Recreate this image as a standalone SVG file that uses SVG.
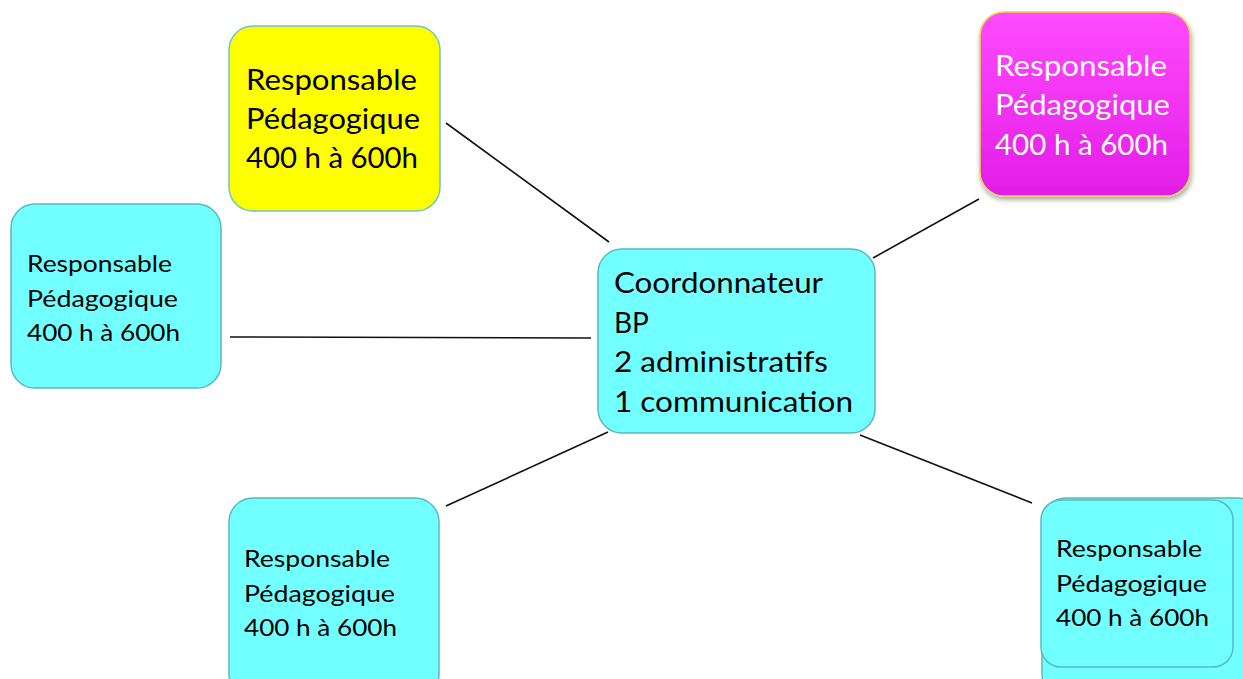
<svg xmlns="http://www.w3.org/2000/svg" width="1243" height="679" viewBox="0 0 1243 679">
<defs>
<style>
.box{fill:#72ffff;stroke:#5ab8c0;stroke-width:1.5}
.t{font-family:Lato,"Liberation Sans",sans-serif;fill:#000}
.w{fill:#fff}
.big{font-size:28px}
.sm{font-size:23px}
.conn line{stroke:#111;stroke-width:1.6}
</style>
<linearGradient id="mag" x1="0" y1="0" x2="0" y2="1">
<stop offset="0" stop-color="#ff4aff"/>
<stop offset="1" stop-color="#e31de6"/>
</linearGradient>
<filter id="sh" x="-10%" y="-10%" width="125%" height="125%">
<feDropShadow dx="1" dy="3" stdDeviation="2.5" flood-color="#000" flood-opacity="0.35"/>
</filter>
</defs>
<rect width="1243" height="679" fill="#fff"/>
<g class="conn">
<line x1="446" y1="123" x2="609" y2="242"/>
<line x1="979" y1="199" x2="873" y2="258"/>
<line x1="230" y1="337" x2="591" y2="338"/>
<line x1="446" y1="506" x2="608" y2="432"/>
<line x1="860" y1="435" x2="1032" y2="503"/>
</g>
<g id="n-yellow">
<rect x="229" y="26" width="211" height="185" rx="24" fill="#ffff00" stroke="#6cc4cc" stroke-width="1.5"/>
<text class="t big" x="246" y="90" textLength="171" lengthAdjust="spacingAndGlyphs">Responsable</text>
<text class="t big" x="246" y="129" textLength="174" lengthAdjust="spacingAndGlyphs">Pédagogique</text>
<text class="t big" x="246" y="168" textLength="172" lengthAdjust="spacingAndGlyphs">400 h à 600h</text>
</g>
<g id="n-magenta">
<rect x="980" y="12" width="210" height="184" rx="24" fill="url(#mag)" stroke="#e8d84a" stroke-width="1.5" filter="url(#sh)"/>
<text class="t big w" x="995" y="76" textLength="172" lengthAdjust="spacingAndGlyphs">Responsable</text>
<text class="t big w" x="995" y="115" textLength="175" lengthAdjust="spacingAndGlyphs">Pédagogique</text>
<text class="t big w" x="995" y="155" textLength="173" lengthAdjust="spacingAndGlyphs">400 h à 600h</text>
</g>
<g id="n-left">
<rect class="box" x="11" y="204" width="210" height="184" rx="24"/>
<text class="t sm" x="27" y="272" textLength="145" lengthAdjust="spacingAndGlyphs">Responsable</text>
<text class="t sm" x="27" y="307" textLength="151" lengthAdjust="spacingAndGlyphs">Pédagogique</text>
<text class="t sm" x="27" y="341" textLength="153" lengthAdjust="spacingAndGlyphs">400 h à 600h</text>
</g>
<g id="n-center">
<rect class="box" x="598" y="249" width="277" height="184" rx="24"/>
<text class="t big" x="614" y="293" textLength="209" lengthAdjust="spacingAndGlyphs">Coordonnateur</text>
<text class="t big" x="614" y="333">BP</text>
<text class="t big" x="614" y="372" textLength="214" lengthAdjust="spacingAndGlyphs">2 administratifs</text>
<text class="t big" x="614" y="412" textLength="239" lengthAdjust="spacingAndGlyphs">1 communication</text>
</g>
<g id="n-bottom-left">
<rect class="box" x="229" y="498" width="210" height="200" rx="24"/>
<text class="t sm" x="244" y="567" textLength="146" lengthAdjust="spacingAndGlyphs">Responsable</text>
<text class="t sm" x="244" y="602" textLength="151" lengthAdjust="spacingAndGlyphs">Pédagogique</text>
<text class="t sm" x="244" y="636" textLength="153" lengthAdjust="spacingAndGlyphs">400 h à 600h</text>
</g>
<g id="n-bottom-right">
<rect class="box" x="1042" y="498" width="220" height="200" rx="24"/>
<rect class="box" x="1041" y="500" width="192" height="167" rx="20"/>
<text class="t sm" x="1056" y="557" textLength="146" lengthAdjust="spacingAndGlyphs">Responsable</text>
<text class="t sm" x="1056" y="592" textLength="151" lengthAdjust="spacingAndGlyphs">Pédagogique</text>
<text class="t sm" x="1056" y="626" textLength="153" lengthAdjust="spacingAndGlyphs">400 h à 600h</text>
</g>
</svg>
